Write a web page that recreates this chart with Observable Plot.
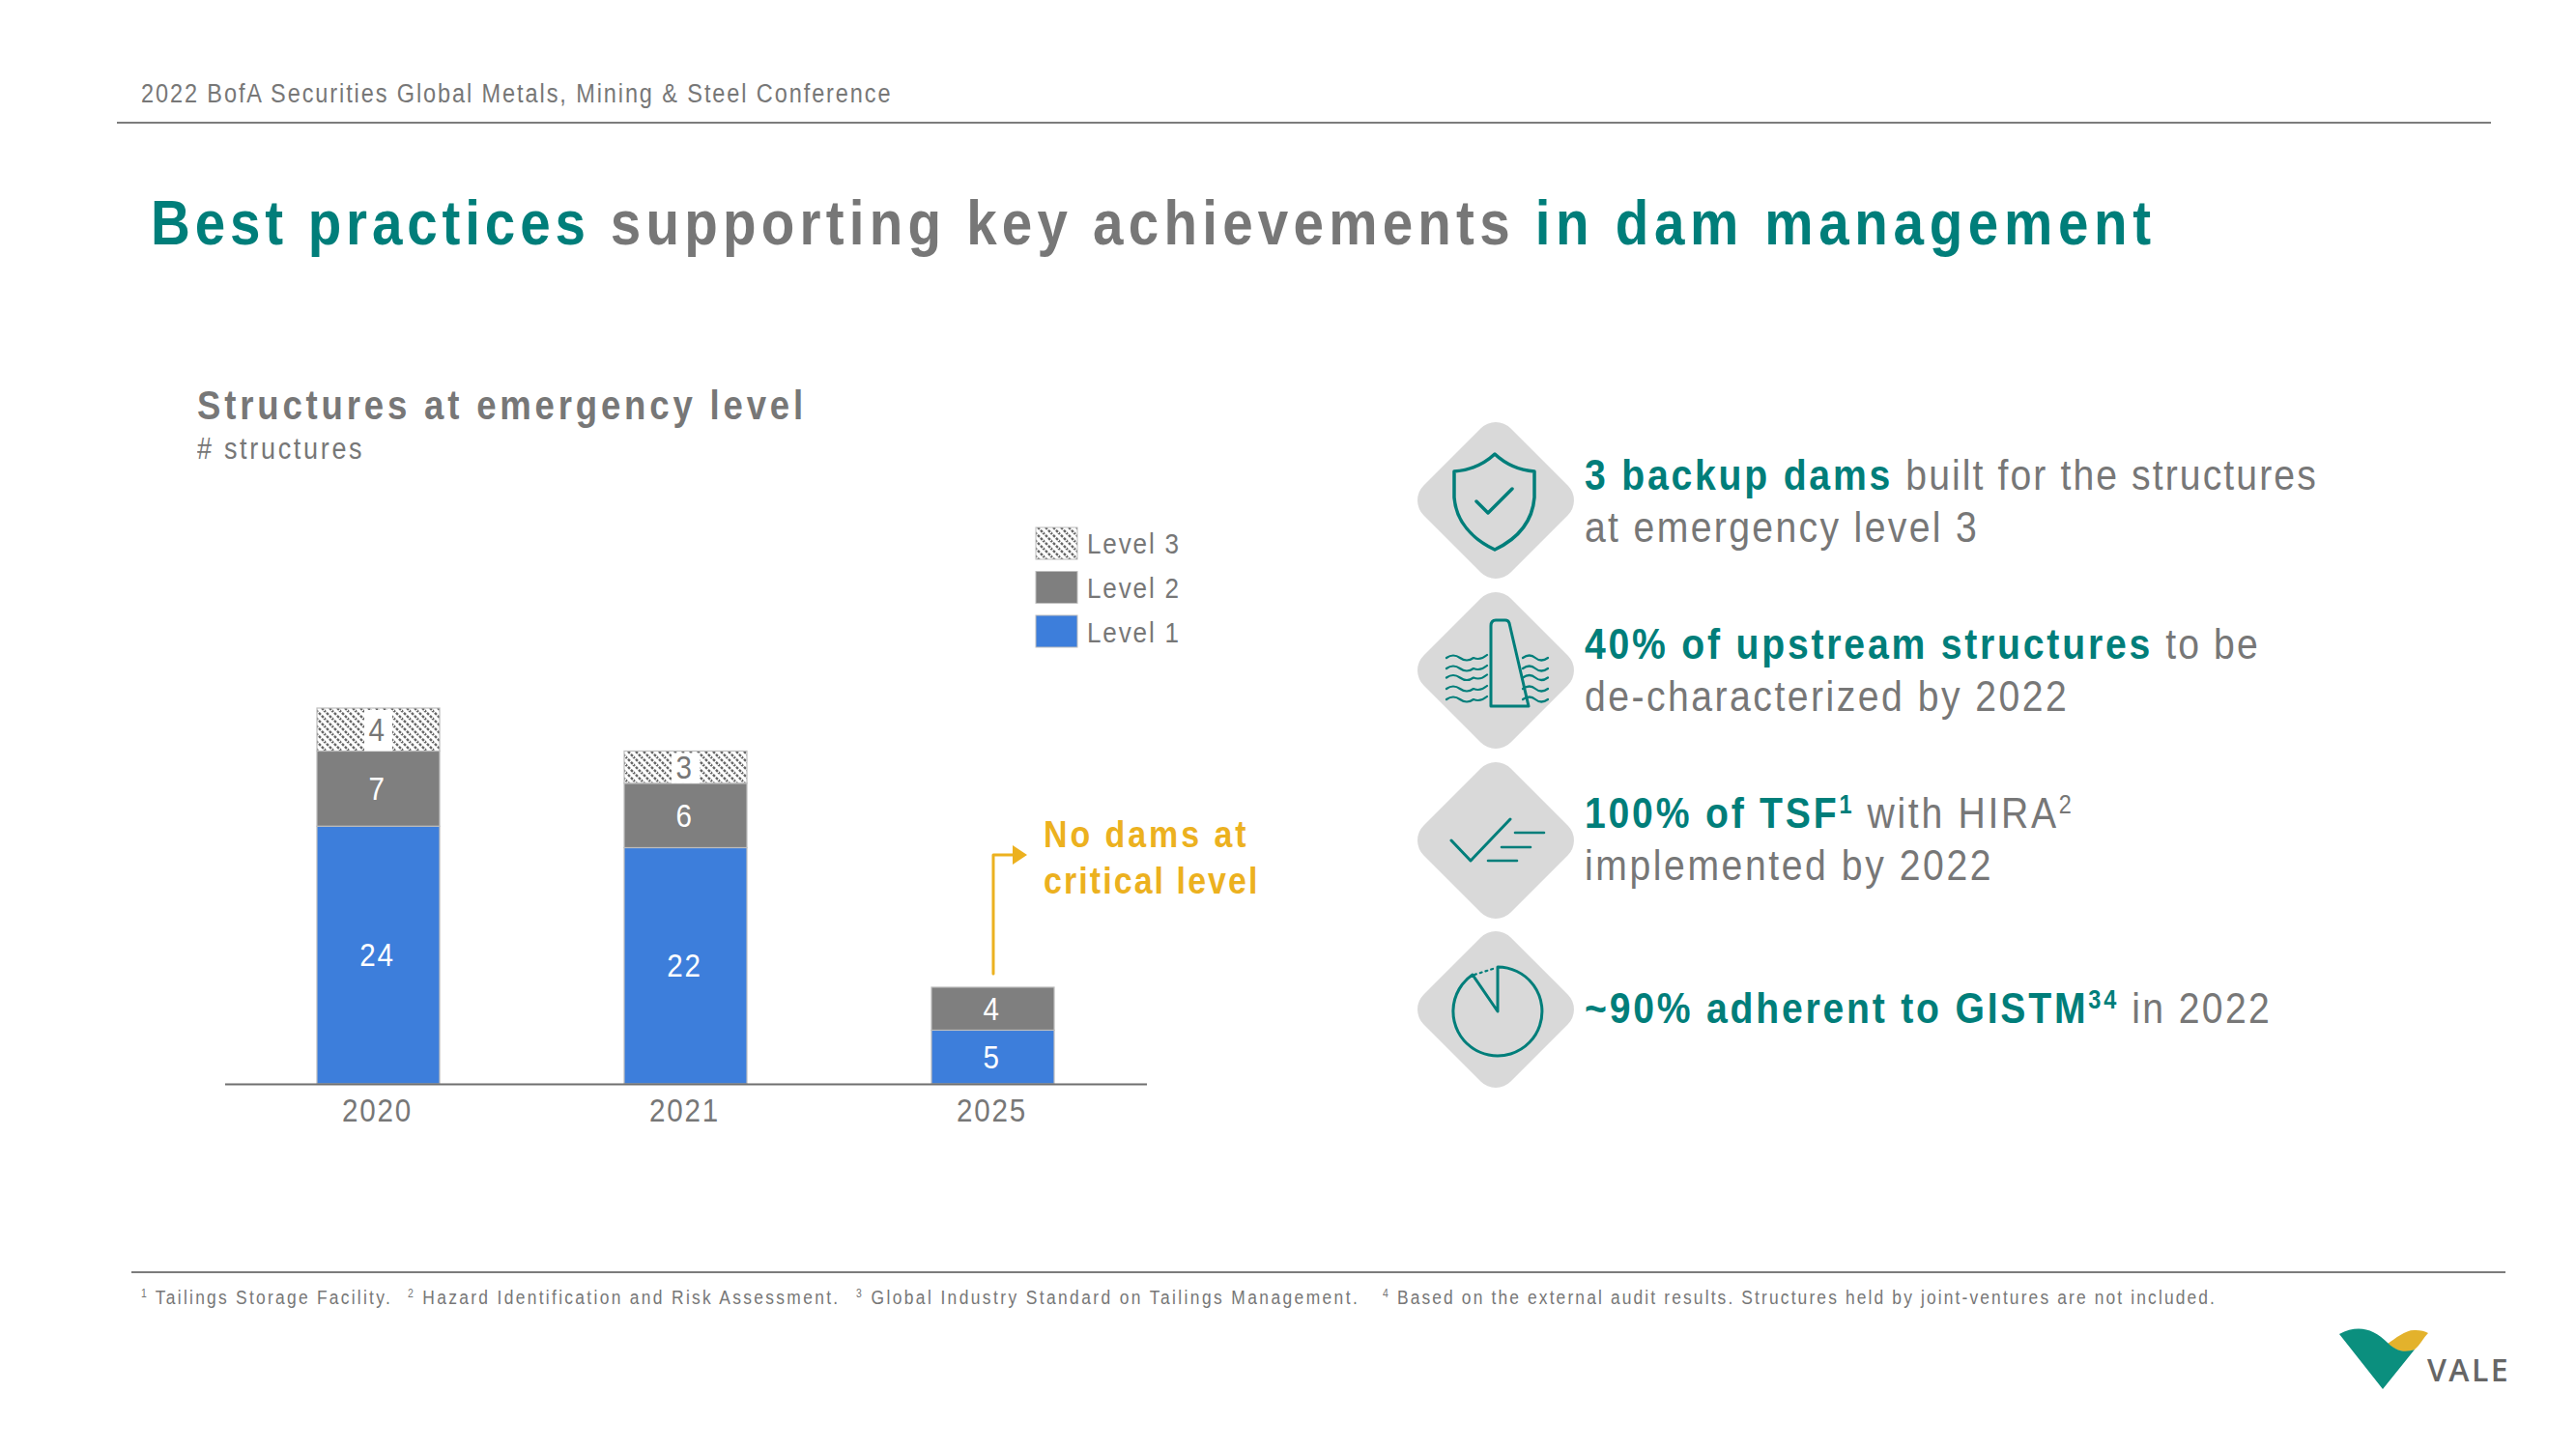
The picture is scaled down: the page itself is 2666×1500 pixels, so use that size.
<!DOCTYPE html>
<html><head><meta charset="utf-8">
<script src="https://cdn.jsdelivr.net/npm/d3@7"></script>
<script src="https://cdn.jsdelivr.net/npm/@observablehq/plot@0.6"></script>
<style>
html,body{margin:0;padding:0;background:#fff;width:2666px;height:1500px;overflow:hidden;font-family:"Liberation Sans",Arial,sans-serif;color:#777}
#stage{position:relative;width:2666px;height:1500px}
#chart{position:absolute;left:0;top:0}
.t{position:absolute;white-space:nowrap;line-height:1;transform:scaleX(.87);transform-origin:0 50%;z-index:2}
.teal{color:#007e7a;font-weight:700}
.item{font-size:45px;letter-spacing:2.7px;line-height:53.5px}
.item .teal{letter-spacing:3.2px}
.foot{top:1333px;font-size:20px}
sup{font-size:.6em;line-height:0;vertical-align:baseline;position:relative;top:-.55em}
.rule{position:absolute;height:1.5px;background:#7c7c7c}
svg.over{position:absolute;left:0;top:0;pointer-events:none}
</style></head><body>
<div id="stage">
<div id="chart"></div>
<div class="t" style="left:146px;top:84px;font-size:27px;letter-spacing:2.2px">2022 BofA Securities Global Metals, Mining &amp; Steel Conference</div>
<div class="rule" style="left:121px;width:2457px;top:126px"></div>
<div class="t" style="left:156px;top:198px;font-size:65px;font-weight:700;letter-spacing:6px"><span class="teal" style="letter-spacing:5.6px">Best practices</span> supporting key achievements <span class="teal" style="letter-spacing:6.5px">in dam management</span></div>
<div class="t" style="left:204px;top:399px;font-size:42px;font-weight:700;letter-spacing:4.4px">Structures at emergency level</div>
<div class="t" style="left:204px;top:449px;font-size:31px;letter-spacing:3.1px"># structures</div>
<div class="t" style="left:1080px;top:840px;font-size:39px;font-weight:700;letter-spacing:3.4px;color:#ecb11f;line-height:48px">No dams at<br><span style="letter-spacing:2.4px">critical level</span></div>
<div class="t item" style="left:1640px;top:465px"><span class="teal">3 backup dams</span> <span style="letter-spacing:2.4px">built for the structures</span><br>at emergency level 3</div>
<div class="t item" style="left:1640px;top:640px"><span class="teal">40% of upstream structures</span> <span style="letter-spacing:2.4px">to be</span><br><span style="letter-spacing:2.85px">de-characterized by 2022</span></div>
<div class="t item" style="left:1640px;top:815px"><span class="teal">100% of TSF<sup>1</sup></span> <span style="letter-spacing:3.1px">with HIRA<sup>2</sup></span><br><span style="letter-spacing:2.95px">implemented by 2022</span></div>
<div class="t item" style="left:1640px;top:1017px"><span class="teal">~90% adherent to GISTM<sup>34</sup></span> in 2022</div>
<div class="rule" style="left:136px;width:2457px;top:1316px"></div>
<div class="t foot" style="left:146px;letter-spacing:2.6px"><sup>1</sup> Tailings Storage Facility.</div>
<div class="t foot" style="left:422px;letter-spacing:2.67px"><sup>2</sup> Hazard Identification and Risk Assessment.</div>
<div class="t foot" style="left:886px;letter-spacing:2.76px"><sup>3</sup> Global Industry Standard on Tailings Management.</div>
<div class="t foot" style="left:1431px;letter-spacing:2.45px"><sup>4</sup> Based on the external audit results. Structures held by joint-ventures are not included.</div>
<div class="t" style="left:1125px;top:548px;font-size:30px;letter-spacing:2.1px">Level 3</div>
<div class="t" style="left:1125px;top:594px;font-size:30px;letter-spacing:2.1px">Level 2</div>
<div class="t" style="left:1125px;top:640px;font-size:30px;letter-spacing:2.1px">Level 1</div>
<svg class="over" width="2666" height="1500" viewBox="0 0 2666 1500">
  <path fill="#e3b22c" d="M2471 1391 C2480 1385 2490 1376 2500 1377 C2505 1377 2510 1378 2513 1380 C2508 1385 2505 1392 2499 1397 C2488 1402 2480 1398 2471 1391Z"/>
  <path fill="#0b8f7e" d="M2421 1381 C2440 1371 2456 1375 2471 1390 C2481 1400 2490 1400 2499 1397 L2466 1438 Z"/>
  <text x="2512" y="1430" font-family="Open Sans,Liberation Sans" font-weight="600" font-size="32" fill="#666" letter-spacing="2.4">VALE</text>
</svg>
</div>
<script>
const years = ["2020","2021","2025"];
const levels = ["Level 1","Level 2","Level 3"];
const level1 = [24,22,5];
const level2 = [7,6,4];
const level3 = [4,3,0];
const blue = "#3d7edb", grey = "#7f7f7f", gold = "#ecb11f", teal = "#007e7a";

const rows = years.flatMap((year,i)=>[
  {year, level:"Level 1", value:level1[i]},
  {year, level:"Level 2", value:level2[i]},
  {year, level:"Level 3", value:level3[i]}
]).filter(d=>d.value>0);
const whiteRows = years.map((year,i)=>({year, y1:level1[i]+level2[i], y2:level1[i]+level2[i]+level3[i]})).filter(d=>d.y2>d.y1);

const stackOpts = {x:"year", y:"value", z:"level", order:levels};

const hatchDefs = () => {
  const defs = d3.create("svg:defs");
  const p = defs.append("pattern").attr("id","hatch").attr("patternUnits","userSpaceOnUse")
    .attr("width",8).attr("height",8);
  p.append("rect").attr("width",8).attr("height",8).attr("fill","#fff");
  p.append("path").attr("d","M-1 -1 L9 9 M-1 7 L1 9 M7 -1 L9 1")
    .attr("stroke","#666").attr("stroke-width",2.4).attr("stroke-dasharray","2.8 1.4");
  return defs.node();
};

const plot = Plot.plot({
  width:2666, height:1500,
  marginLeft:233, marginRight:2666-1187, marginTop:733, marginBottom:1500-1122,
  style:{fontFamily:"'Liberation Sans',Arial,sans-serif", background:"transparent", overflow:"visible"},
  x:{domain:years, paddingInner:0.6, paddingOuter:0.3, label:null},
  y:{domain:[0,35], axis:null, label:null},
  marks:[
    hatchDefs,
    Plot.barY(rows, Plot.stackY({...stackOpts,
      fill:d=>d.level==="Level 3"?"url(#hatch)":d.level==="Level 2"?grey:blue,
      stroke:"#bdbdbd", strokeWidth:1.2})),
    Plot.barY(whiteRows, {x:"year", y1:"y1", y2:"y2", fill:"#fff", insetLeft:49, insetRight:49, insetTop:2}),
    Plot.ruleY([0],{stroke:"#6f6f6f",strokeWidth:2}),
    Plot.axisX({tickSize:0, tickPadding:14, fontSize:34, fill:"#777", label:null, dx:-1.5}),
    Plot.text(rows, Plot.stackY({...stackOpts, text:"value", dx:-1.5, fontSize:34,
      fill:d=>d.level==="Level 3"?"#777":"#fff"}))
  ]
});
document.getElementById("chart").append(plot);
// space out and condense Plot's labels horizontally, as the reference's narrow lettering does
plot.querySelectorAll("text").forEach(t=>{
  t.style.letterSpacing="2px";
  const n=t.getComputedTextLength();
  if(n>0){t.setAttribute("textLength",(n*0.87).toFixed(1));t.setAttribute("lengthAdjust","spacingAndGlyphs");}
});

/* decorative icons + legend swatches */
const ns="http://www.w3.org/2000/svg";
const over=document.querySelector("svg.over");
const legendColors={"Level 3":"url(#hatch)","Level 2":grey,"Level 1":blue};
["Level 3","Level 2","Level 1"].forEach((l,i)=>{
  const y=546+i*45.5;
  const r=document.createElementNS(ns,"rect");
  r.setAttribute("x",1072);r.setAttribute("y",y);r.setAttribute("width",43);r.setAttribute("height",33);
  r.setAttribute("fill",legendColors[l]);r.setAttribute("stroke","#bdbdbd");r.setAttribute("stroke-width",1);
  over.append(r);
});
[518,694,870,1045].forEach(cy=>{
  const d=document.createElementNS(ns,"rect");
  d.setAttribute("x",-63.7);d.setAttribute("y",-63.7);d.setAttribute("width",127.4);d.setAttribute("height",127.4);d.setAttribute("rx",22);
  d.setAttribute("transform",`translate(1548 ${cy}) rotate(45)`);
  d.setAttribute("fill","#d9d9d9");
  over.insertBefore(d,over.firstChild);
});
function icon(dstr,w=3,stroke=teal,dash){
  const p=document.createElementNS(ns,"path");p.setAttribute("d",dstr);
  p.setAttribute("fill","none");p.setAttribute("stroke",stroke);p.setAttribute("stroke-width",w);
  p.setAttribute("stroke-linecap","round");p.setAttribute("stroke-linejoin","round");
  if(dash)p.setAttribute("stroke-dasharray",dash);
  over.append(p);
}
// shield
icon("M1505 488 Q1530 486 1547 470 Q1564 486 1588 488 L1588 515 C1586 540 1570 558 1547 569 C1524 558 1507 540 1505 515 Z",3.5);
icon("M1528 519 L1540 531 L1565 506",3.5);
// dam
icon("M1543 731 L1543 648 Q1543 642 1548 642 L1558 642 Q1561 642 1562 645 L1582 731 Z",3);
[681,692,701.5,713,724].forEach(y=>{
  icon(`M1497 ${y} q7 -5 14 0 t14 0 q7 3 14 -3`,2.2);
  icon(`M1576 ${y} q7 -5 13 0 t13 0`,2.2);
});
// checklist
icon("M1502 870 L1522 891 L1563 848",3);
icon("M1568 862 L1598 862 M1554 877 L1584 877 M1540 891 L1570 891",2.6);
// pie
icon("M1550 1047 L1550 1001 A46 46 0 1 1 1524 1009 Z",3);
icon("M1526 1009 L1548 1002",2.2,teal,"2 4");
// gold arrow
icon("M1028 1008 L1028 885 L1050 885",3,gold);
const a=document.createElementNS(ns,"path");a.setAttribute("d","M1048 875 L1063 885 L1048 895 Z");a.setAttribute("fill",gold);over.append(a);
</script>
</body></html>
